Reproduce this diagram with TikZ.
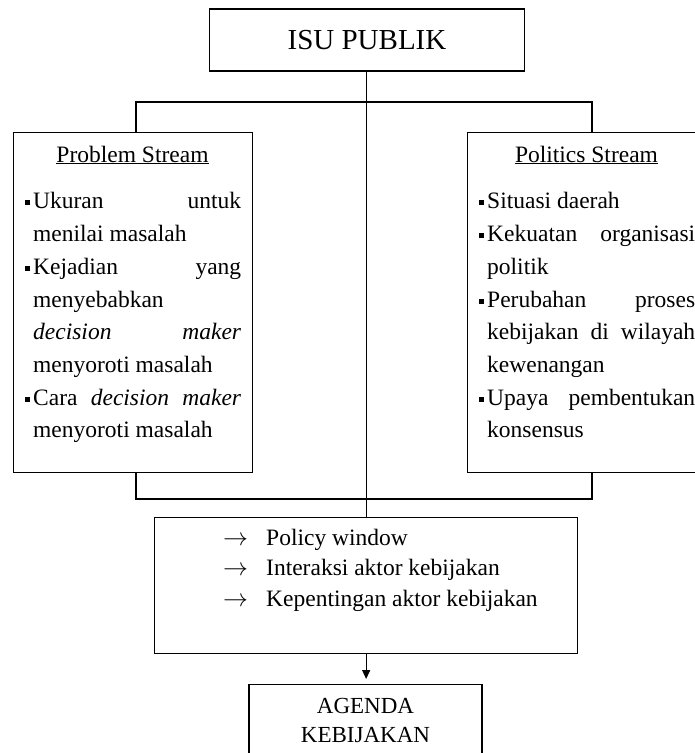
\documentclass[tikz,border=0pt]{standalone}
\usepackage{fontspec}
\setmainfont{Liberation Serif}
\usetikzlibrary{arrows.meta, positioning, calc}

\newcommand{\kotak}{\makebox[8pt][l]{\rule[3.5pt]{5pt}{5pt}}}
\newcommand{\butir}{\par\hangindent=8pt\hangafter=1\noindent\kotak}

\begin{document}
\begin{tikzpicture}[x=1pt, y=-1pt,
  box/.style={rectangle, draw=black, line width=1.3pt, inner sep=0pt},
  judul/.style={font=\fontsize{23.5}{32.7}\selectfont, inner sep=0pt, anchor=base},
  daftar/.style={font=\fontsize{23.5}{32.7}\selectfont, inner sep=0pt, anchor=north west,
                 text width=216pt, align=justify},
  garis/.style={line width=1.3pt},
  arr/.style={-{Triangle[length=9pt, width=8pt]}, line width=1.3pt}
]
  \useasboundingbox (0,0) rectangle (695,753);

  \node[box, minimum width=315pt, minimum height=62pt,
        font=\fontsize{29}{34}\selectfont] (isu) at (367,40) {ISU PUBLIK};
  \node[box, anchor=north west, minimum width=239pt, minimum height=340pt] (problem) at (13,132) {};
  \node[box, anchor=north west, minimum width=239pt, minimum height=340pt] (politics) at (467,132) {};
  \node[box, anchor=north west, minimum width=423pt, minimum height=136pt] (window) at (154,517) {};
  \node[box, anchor=north, minimum width=233pt, inner ysep=14pt, align=center,
        font=\fontsize{23}{29}\selectfont] (agenda) at (365.5,684) {AGENDA\\KEBIJAKAN};

  % isi kotak stream
  \node[judul] (probjudul) at (132.5,162) {\underline{Problem Stream}};
  \node[daftar] (problist) at (25,176) {\tolerance=10000\hbadness=10000
    \butir Ukuran untuk\linebreak menilai masalah
    \butir Kejadian yang\linebreak menyebabkan\newline
      \textit{decision maker}\linebreak menyoroti masalah
    \butir Cara \textit{decision maker}\linebreak menyoroti masalah\par};
  \node[judul] (poljudul) at (586.5,162) {\underline{Politics Stream}};
  \node[daftar] (pollist) at (479,176) {\tolerance=10000\hbadness=10000
    \butir Situasi daerah
    \butir Kekuatan organisasi\linebreak politik
    \butir Perubahan proses\linebreak kebijakan di wilayah\linebreak kewenangan
    \butir Upaya pembentukan\linebreak konsensus\par};

  \node[anchor=north west, inner sep=0pt, align=left,
        font=\fontsize{23.5}{30.5}\selectfont] (wintext) at (223,528.5)
    {\makebox[43pt][l]{$\rightarrow$}Policy window\\
     \makebox[43pt][l]{$\rightarrow$}Interaksi aktor kebijakan\\
     \makebox[43pt][l]{$\rightarrow$}Kepentingan aktor kebijakan};

  % garis penghubung
  \coordinate (atasL) at (136,102);
  \coordinate (atasR) at (592,102);
  \coordinate (bawahL) at (136,499);
  \coordinate (bawahR) at (592,499);
  \draw[garis] (problem.north -| atasL) -- (atasL) -- (atasR) -- (politics.north -| atasR);
  \draw[garis, line width=1.8pt] (problem.south -| bawahL) -- (bawahL) -- (bawahR)
        -- (politics.south -| bawahR);
  \draw[garis] (isu.south -| window.north) -- (window.north);
  \draw[arr, shorten >=5pt] (window.south) -- (window.south |- agenda.north);
\end{tikzpicture}
\end{document}
